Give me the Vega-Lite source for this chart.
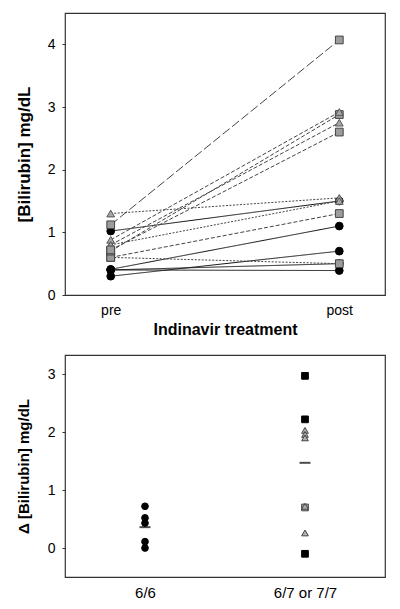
{
  "$schema": "https://vega.github.io/schema/vega-lite/v6.json",
  "padding": {"left": 14, "top": 12, "right": 5, "bottom": 5},
  "background": "white",
  "config": {
    "font": "Liberation Sans",
    "view": {"stroke": "#333", "strokeWidth": 1.2},
    "axis": {"grid": false, "domain": false, "labelColor": "black", "titleColor": "black", "labelFontSize": 14, "titleFontSize": 16, "titleFontWeight": "bold", "tickColor": "#333", "tickSize": 3},
    "concat": {"spacing": 16}
  },
  "resolve": {"scale": {"shape": "independent", "fill": "independent", "stroke": "independent", "color": "independent", "strokeDash": "independent"}},
  "datasets": {
    "pairs": [
      {"id": "c1", "grp": "circle", "dash": "solid", "time": "pre", "t": 0, "value": 1.02},
      {"id": "c1", "grp": "circle", "dash": "solid", "time": "post", "t": 1, "value": 1.5},
      {"id": "c2", "grp": "circle", "dash": "solid", "time": "pre", "t": 0, "value": 0.41},
      {"id": "c2", "grp": "circle", "dash": "solid", "time": "post", "t": 1, "value": 1.1},
      {"id": "c3", "grp": "circle", "dash": "solid", "time": "pre", "t": 0, "value": 0.3},
      {"id": "c3", "grp": "circle", "dash": "solid", "time": "post", "t": 1, "value": 0.7},
      {"id": "c4", "grp": "circle", "dash": "solid", "time": "pre", "t": 0, "value": 0.4},
      {"id": "c4", "grp": "circle", "dash": "solid", "time": "post", "t": 1, "value": 0.5},
      {"id": "c5", "grp": "circle", "dash": "solid", "time": "pre", "t": 0, "value": 0.4},
      {"id": "c5", "grp": "circle", "dash": "solid", "time": "post", "t": 1, "value": 0.39},
      {"id": "s1", "grp": "square", "dash": "long", "time": "pre", "t": 0, "value": 1.12},
      {"id": "s1", "grp": "square", "dash": "long", "time": "post", "t": 1, "value": 4.07},
      {"id": "t1", "grp": "triangle", "dash": "dot", "time": "pre", "t": 0, "value": 1.3},
      {"id": "t1", "grp": "triangle", "dash": "dot", "time": "post", "t": 1, "value": 1.55},
      {"id": "s2", "grp": "square", "dash": "dot", "time": "pre", "t": 0, "value": 0.6},
      {"id": "s2", "grp": "square", "dash": "dot", "time": "post", "t": 1, "value": 0.5},
      {"id": "s3", "grp": "square", "dash": "short", "time": "pre", "t": 0, "value": 0.6},
      {"id": "s3", "grp": "square", "dash": "short", "time": "post", "t": 1, "value": 1.3},
      {"id": "t2", "grp": "triangle", "dash": "dot", "time": "pre", "t": 0, "value": 0.8},
      {"id": "t2", "grp": "triangle", "dash": "dot", "time": "post", "t": 1, "value": 1.5},
      {"id": "s4", "grp": "square", "dash": "short", "time": "pre", "t": 0, "value": 0.7},
      {"id": "s4", "grp": "square", "dash": "short", "time": "post", "t": 1, "value": 2.88},
      {"id": "t3", "grp": "triangle", "dash": "short", "time": "pre", "t": 0, "value": 0.88},
      {"id": "t3", "grp": "triangle", "dash": "short", "time": "post", "t": 1, "value": 2.92},
      {"id": "t4", "grp": "triangle", "dash": "short", "time": "pre", "t": 0, "value": 0.8},
      {"id": "t4", "grp": "triangle", "dash": "short", "time": "post", "t": 1, "value": 2.75},
      {"id": "s5", "grp": "square", "dash": "short", "time": "pre", "t": 0, "value": 0.72},
      {"id": "s5", "grp": "square", "dash": "short", "time": "post", "t": 1, "value": 2.6}
    ],
    "delta": [
      {"geno": "6/6", "kind": "circle", "value": 0.72},
      {"geno": "6/6", "kind": "circle", "value": 0.52},
      {"geno": "6/6", "kind": "circle", "value": 0.43},
      {"geno": "6/6", "kind": "circle", "value": 0.11},
      {"geno": "6/6", "kind": "circle", "value": 0.0},
      {"geno": "6/7 or 7/7", "kind": "blacksquare", "value": 2.97},
      {"geno": "6/7 or 7/7", "kind": "blacksquare", "value": 2.22},
      {"geno": "6/7 or 7/7", "kind": "blacksquare", "value": -0.1},
      {"geno": "6/7 or 7/7", "kind": "greysquare", "value": 0.7},
      {"geno": "6/7 or 7/7", "kind": "greytriangle", "value": 2.03},
      {"geno": "6/7 or 7/7", "kind": "greytriangle", "value": 1.96},
      {"geno": "6/7 or 7/7", "kind": "greytriangle", "value": 1.9},
      {"geno": "6/7 or 7/7", "kind": "greytriangle", "value": 0.72},
      {"geno": "6/7 or 7/7", "kind": "greytriangle", "value": 0.26}
    ],
    "means": [
      {"geno": "6/6", "value": 0.36},
      {"geno": "6/7 or 7/7", "value": 1.47}
    ]
  },
  "vconcat": [
    {
      "width": 320,
      "height": 282,
      "data": {"name": "pairs"},
      "encoding": {
        "x": {"field": "time", "type": "ordinal", "sort": ["pre", "post"], "scale": {"type": "point", "padding": 0.2}, "axis": {"title": "Indinavir treatment", "labelAngle": 0, "ticks": false, "labelPadding": 8, "titlePadding": 4}},
        "y": {"field": "value", "type": "quantitative", "scale": {"domain": [0, 4.5], "nice": false}, "axis": {"title": "[Bilirubin] mg/dL", "titleFontSize": 17, "values": [0, 1, 2, 3, 4], "titlePadding": 14, "labelPadding": 7}}
      },
      "layer": [
        {
          "mark": {"type": "line", "strokeWidth": 1},
          "encoding": {
            "detail": {"field": "id"},
            "order": {"field": "t"},
            "strokeDash": {"field": "dash", "type": "nominal", "scale": {"domain": ["solid", "long", "short", "dot"], "range": [[1, 0], [9, 3], [4, 2], [2, 1.5]]}, "legend": null},
            "color": {"field": "dash", "type": "nominal", "scale": {"domain": ["solid", "long", "short", "dot"], "range": ["#111", "#444", "#444", "#444"]}, "legend": null}
          }
        },
        {
          "mark": {"type": "point", "filled": true, "opacity": 1, "strokeWidth": 1},
          "encoding": {
            "shape": {"field": "grp", "type": "nominal", "scale": {"domain": ["circle", "square", "triangle"], "range": ["circle", "square", "triangle-up"]}, "legend": null},
            "fill": {"field": "grp", "type": "nominal", "scale": {"domain": ["circle", "square", "triangle"], "range": ["#000", "#9c9c9c", "#a8a8a8"]}, "legend": null},
            "stroke": {"field": "grp", "type": "nominal", "scale": {"domain": ["circle", "square", "triangle"], "range": ["#000", "#444", "#555"]}, "legend": null},
            "size": {"value": 60}
          }
        }
      ]
    },
    {
      "width": 320,
      "height": 222,
      "encoding": {
        "x": {"field": "geno", "type": "ordinal", "sort": ["6/6", "6/7 or 7/7"], "scale": {"type": "point", "padding": 0.5}, "axis": {"title": null, "labelAngle": 0, "ticks": false, "labelPadding": 8, "labelFontSize": 15}},
        "y": {"field": "value", "type": "quantitative", "scale": {"domain": [-0.5, 3.33], "nice": false}, "axis": {"title": "Δ [Bilirubin] mg/dL", "titleFontSize": 15, "values": [0, 1, 2, 3], "titlePadding": 16, "labelPadding": 7}}
      },
      "layer": [
        {
          "data": {"name": "delta"},
          "mark": {"type": "point", "filled": true, "opacity": 1, "strokeWidth": 1},
          "encoding": {
            "shape": {"field": "kind", "type": "nominal", "scale": {"domain": ["circle", "blacksquare", "greysquare", "greytriangle"], "range": ["circle", "square", "square", "triangle-up"]}, "legend": null},
            "fill": {"field": "kind", "type": "nominal", "scale": {"domain": ["circle", "blacksquare", "greysquare", "greytriangle"], "range": ["#000", "#000", "#aaa", "#b0b0b0"]}, "legend": null},
            "stroke": {"field": "kind", "type": "nominal", "scale": {"domain": ["circle", "blacksquare", "greysquare", "greytriangle"], "range": ["#000", "#000", "#444", "#444"]}, "legend": null},
            "size": {"value": 45}
          }
        },
        {
          "data": {"name": "means"},
          "mark": {"type": "tick", "color": "black", "thickness": 2, "size": 11, "orient": "horizontal"},
          "encoding": {}
        }
      ]
    }
  ]
}
